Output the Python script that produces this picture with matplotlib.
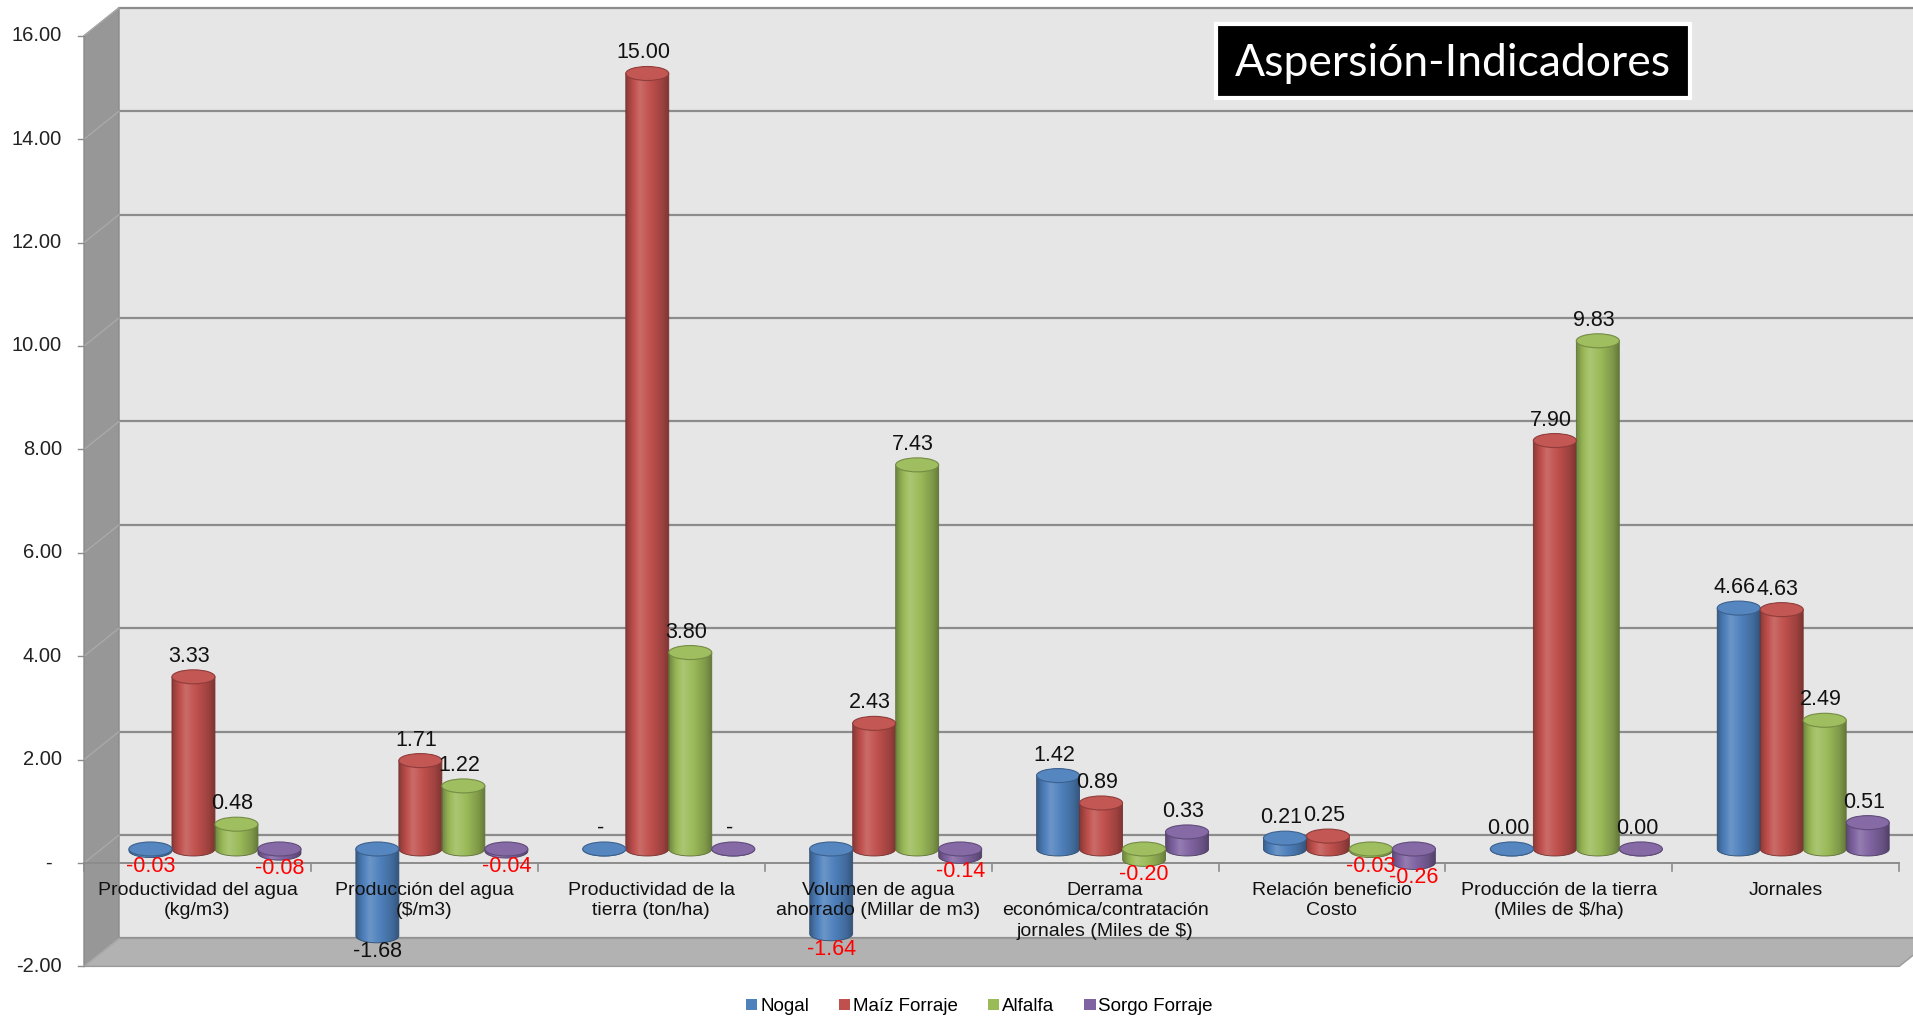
import numpy as np
import matplotlib
matplotlib.use("Agg")
import matplotlib.pyplot as plt
from matplotlib.patches import Polygon, Ellipse, PathPatch, Patch, Rectangle
from matplotlib.path import Path
from matplotlib.colors import to_rgb

# ---- data ----
categories = [
    "Productividad del agua\n(kg/m3)",
    "Producción del agua\n($/m3)",
    "Productividad de la\ntierra (ton/ha)",
    "Volumen de agua\nahorrado (Millar de m3)",
    "Derrama\neconómica/contratación\njornales (Miles de $)",
    "Relación beneficio\nCosto",
    "Producción de la tierra\n(Miles de $/ha)",
    "Jornales",
]
series_names = ["Nogal", "Maíz Forraje", "Alfalfa", "Sorgo Forraje"]
nogal = [-0.03, -1.68, 0.0, -1.64, 1.42, 0.21, 0.001, 4.66]
maiz = [3.33, 1.71, 15.00, 2.43, 0.89, 0.25, 7.90, 4.63]
alfalfa = [0.48, 1.22, 3.80, 7.43, -0.20, -0.03, 9.83, 2.49]
sorgo = [-0.08, -0.04, 0.0, -0.14, 0.33, -0.26, 0.001, 0.51]
y_ticks = [-2, 0, 2, 4, 6, 8, 10, 12, 14, 16]
title = "Aspersión-Indicadores"

# negative labels are red in the original, except this one
black_neg_labels = {(0, 1)}

COLORS = ["#4f81bd", "#c0504d", "#9bbb59", "#8064a2"]
WALL = "#e6e6e6"
SIDE = "#979797"
FLOOR = "#b2b2b2"
GRID = "#8c8c8c"

FONT = ["Liberation Sans Narrow", "Liberation Sans", "DejaVu Sans"]
plt.rcParams["font.family"] = FONT

# pixel geometry of the front plane
W, H = 1913, 1023
PX_CAT, LEFT_PX = 226.9, 84
PX_VAL, ZERO_PX = 51.7, 863
DX = 35 / PX_CAT      # depth offset (category units)
DY = 28 / PX_VAL      # depth offset (value units)
BAR_W = 43 / PX_CAT
CAP_H = 14 / PX_VAL

fig = plt.figure(figsize=(W / 100, H / 100), dpi=100)
ax = fig.add_axes([0, 0, 1, 1])
ax.axis("off")

x0, x1 = -0.5, len(categories) - 0.5
ymin, ymax = y_ticks[0], y_ticks[-1]

# back wall
ax.add_patch(Polygon([(x0 + DX, ymin + DY), (x1 + DX + 1, ymin + DY),
                      (x1 + DX + 1, ymax + DY), (x0 + DX, ymax + DY)],
                     closed=True, fc=WALL, ec="none", zorder=0))
# left side wall
ax.add_patch(Polygon([(x0, ymin), (x0 + DX, ymin + DY), (x0 + DX, ymax + DY), (x0, ymax)],
                     closed=True, fc=SIDE, ec="#8a8a8a", lw=1, zorder=1))
# floor
ax.add_patch(Polygon([(x0, ymin), (x1, ymin), (x1 + DX, ymin + DY), (x0 + DX, ymin + DY)],
                     closed=True, fc=FLOOR, ec="#9a9a9a", lw=1, zorder=1))

for v in y_ticks:
    ax.plot([x0 + DX, x1 + DX + 1], [v + DY, v + DY], color=GRID, lw=1.6, zorder=0.8)
    ax.plot([x0, x0 + DX], [v, v + DY], color="#a9a9a9", lw=1, zorder=1.5)
    ax.plot([x0 - 6 / PX_CAT, x0], [v, v], color="#8c8c8c", lw=1, zorder=1.5)
    if v == 0:
        ax.text(x0 - 36 / PX_CAT, v, "-", ha="center", va="center", fontsize=14.5, color="#222222")
    else:
        ax.text(x0 - 22 / PX_CAT, v, f"{v:.2f}", ha="right", va="center",
                fontsize=14.5, color="#222222")

# category axis line at zero (front)
ax.plot([x0, x1], [0, 0], color="#8c8c8c", lw=1.4, zorder=1.6)
for b in np.arange(x0, x1 + 0.5, 1.0):
    ax.plot([b, b], [0, -8 / PX_VAL], color="#8c8c8c", lw=1.2, zorder=1.6)

for j, cat in enumerate(categories):
    ax.text(j, -19 / PX_VAL, cat, ha="center", va="top", fontsize=14,
            color="#111111", linespacing=1.25, zorder=10, parse_math=False)


def shade(color, f):
    c = np.array(to_rgb(color))
    if f >= 1:
        return c + (1 - c) * (f - 1)
    return c * f


profile_t = [0.0, 0.12, 0.32, 0.6, 0.85, 1.0]
profile_f = [0.72, 0.92, 1.16, 0.98, 0.82, 0.66]
tt = np.linspace(0, 1, 64)
ff = np.interp(tt, profile_t, profile_f)

theta = np.linspace(0, np.pi, 40)
all_series = [nogal, maiz, alfalfa, sorgo]
for i, vals in enumerate(all_series):
    col = COLORS[i]
    grad = np.array([[shade(col, f) for f in ff]])
    for j, v in enumerate(vals):
        cx = j + (i - 1.5) * BAR_W + DX / 2
        upper = max(v, 0) + DY / 2
        lower = min(v, 0) + DY / 2
        left, right = cx - BAR_W / 2, cx + BAR_W / 2
        # body: rectangle + bottom half ellipse
        arc_x = cx + BAR_W / 2 * np.cos(theta)
        arc_y = lower - CAP_H / 2 * np.sin(theta)
        verts = [(left, upper), (right, upper)] + list(zip(arc_x, arc_y)) + [(left, upper)]
        body = PathPatch(Path(verts, closed=True), fc="none", ec=shade(col, 0.6),
                         lw=0.6, transform=ax.transData, zorder=3)
        ax.add_patch(body)
        im = ax.imshow(grad, extent=[left, right, lower - CAP_H, upper + CAP_H],
                       aspect="auto", interpolation="bilinear", zorder=2.9)
        im.set_clip_path(body)
        # top cap
        ax.add_patch(Ellipse((cx, upper), BAR_W, CAP_H, fc=shade(col, 1.04),
                             ec=shade(col, 0.75), lw=0.8, zorder=3.1))
        # label
        lab = "-" if v == 0 else f"{v:.2f}"
        if v < 0:
            lcol = "#111111" if (i, j) in black_neg_labels else "#ff0000"
            ax.text(cx, lower - CAP_H / 2 + 2 / PX_VAL, lab, ha="center", va="top",
                    fontsize=15.5, color=lcol, zorder=11)
        else:
            ax.text(cx - 4 / PX_CAT, upper + CAP_H / 2 + 3 / PX_VAL, lab, ha="center",
                    va="bottom", fontsize=15.5, color="#111111", zorder=11)

ax.set_xlim(x0 - LEFT_PX / PX_CAT, x0 + (W - LEFT_PX) / PX_CAT)
ax.set_ylim((ZERO_PX - H) / PX_VAL, ZERO_PX / PX_VAL)

# title box
fig.patches.append(Rectangle((1216 / W, 1 - 98 / H), 474 / W, 74 / H, transform=fig.transFigure,
                             fc="black", ec="white", lw=3, zorder=20))
fig.text(1453 / W, 1 - 63 / H, title, ha="center", va="center", color="white", fontsize=32,
         family=["Lato", "DejaVu Sans"], zorder=21)

handles = [Patch(fc=c, ec="none") for c in COLORS]
fig.legend(handles, series_names, loc="center", bbox_to_anchor=(0.512, 0.016), ncol=4,
           frameon=False, fontsize=13.5, handlelength=0.6, handleheight=0.6,
           handletextpad=0.15, columnspacing=1.6, borderaxespad=0)

fig.savefig("out.png", dpi=100, facecolor="white")
